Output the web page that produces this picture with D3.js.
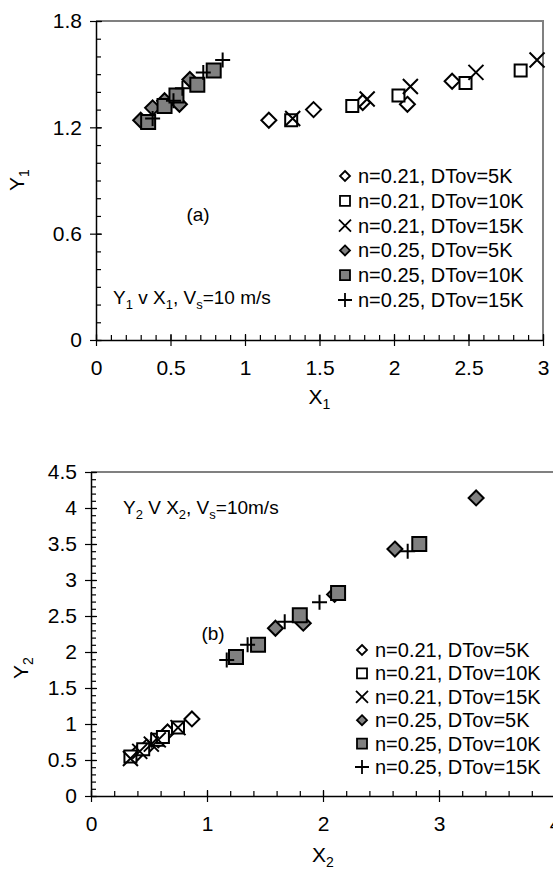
<!DOCTYPE html>
<html>
<head>
<meta charset="utf-8">
<script src="https://cdn.jsdelivr.net/npm/d3@7"></script>
<style>
  body { margin: 0; background: #fff; }
  svg { display: block; font-family: "Liberation Sans", Arial, sans-serif; }
</style>
</head>
<body>
<svg id="chart" width="553" height="874"></svg>
<script>
  'use strict';

  // legend labels, same for both panels
  var legendLabels = [
    'n=0.21, DTov=5K', 'n=0.21, DTov=10K', 'n=0.21, DTov=15K',
    'n=0.25, DTov=5K', 'n=0.25, DTov=10K', 'n=0.25, DTov=15K'
  ];

  // panel (a): [X1, Y1]
  var a_n21_5K  = [[1.16, 1.24], [1.46, 1.30], [1.79, 1.34], [2.09, 1.33], [2.39, 1.46]];
  var a_n21_10K = [[1.31, 1.24], [1.72, 1.32], [2.03, 1.38], [2.48, 1.45], [2.85, 1.52]];
  var a_n21_15K = [[1.32, 1.25], [1.82, 1.36], [2.11, 1.43], [2.55, 1.51], [2.96, 1.58]];
  var a_n25_5K  = [[0.30, 1.24], [0.38, 1.31], [0.46, 1.35], [0.56, 1.33], [0.63, 1.47]];
  var a_n25_10K = [[0.35, 1.23], [0.46, 1.32], [0.54, 1.38], [0.68, 1.44], [0.79, 1.52]];
  var a_n25_15K = [[0.38, 1.25], [0.52, 1.35], [0.58, 1.42], [0.72, 1.51], [0.85, 1.58]];

  // panel (b): [X2, Y2]
  var b_n21_5K  = [[0.40, 0.60], [0.48, 0.68], [0.58, 0.78], [0.66, 0.89], [0.87, 1.07]];
  var b_n21_10K = [[0.34, 0.55], [0.45, 0.65], [0.57, 0.78], [0.62, 0.82], [0.75, 0.95]];
  var b_n21_15K = [[0.34, 0.52], [0.42, 0.62], [0.52, 0.72], [0.58, 0.78], [0.75, 0.95]];
  var b_n25_5K  = [[1.59, 2.33], [1.83, 2.40], [2.10, 2.80], [2.62, 3.43], [3.32, 4.14]];
  var b_n25_10K = [[1.25, 1.93], [1.44, 2.10], [1.80, 2.51], [2.13, 2.82], [2.83, 3.50]];
  var b_n25_15K = [[1.17, 1.89], [1.35, 2.10], [1.67, 2.42], [1.97, 2.69], [2.73, 3.40]];

  var aXTicks = [0, 0.5, 1, 1.5, 2, 2.5, 3];
  var aYTicks = [0, 0.6, 1.2, 1.8];
  var bXTicks = [0, 1, 2, 3, 4];
  var bYTicks = [0, 0.5, 1, 1.5, 2, 2.5, 3, 3.5, 4, 4.5];

  var GRAY = '#808080';

  // marker styles, one per series (legend order)
  var markers = [
    { shape: 'diamond', fill: '#fff', r: 7.5, lr: 5 },
    { shape: 'square', fill: '#fff', r: 6, lr: 5 },
    { shape: 'x', fill: 'none', r: 7.5, lr: 6 },
    { shape: 'diamond', fill: GRAY, r: 7.5, lr: 5 },
    { shape: 'square', fill: GRAY, r: 7, lr: 5 },
    { shape: 'plus', fill: 'none', r: 7.5, lr: 7 }
  ];

  function markerPath(shape, s) {
    switch (shape) {
      case 'diamond': return 'M0,' + (-s) + 'L' + s + ',0L0,' + s + 'L' + (-s) + ',0Z';
      case 'square': return 'M' + (-s) + ',' + (-s) + 'h' + 2 * s + 'v' + 2 * s + 'h' + (-2 * s) + 'Z';
      case 'x': return 'M' + (-s) + ',' + (-s) + 'L' + s + ',' + s + 'M' + (-s) + ',' + s + 'L' + s + ',' + (-s);
      default: return 'M' + (-s) + ',0H' + s + 'M0,' + (-s) + 'V' + s;
    }
  }

  function minorTicks(lo, hi, step) {
    return d3.range(Math.round((hi - lo) / step) + 1).map(function (i) {
      return +(lo + i * step).toFixed(4);
    });
  }

  // text with subscripts: parts = [[text, isSub], ...]
  function richText(sel, parts, subSize) {
    parts.forEach(function (p) {
      var t = sel.append('tspan').text(p[0]);
      if (p[1]) {
        t.attr('font-size', subSize).attr('dy', 5);
      } else {
        t.attr('dy', sel.node().childNodes.length > 1 ? -5 : 0);
      }
    });
  }

  var svg = d3.select('#chart');

  function drawPanel(cfg) {
    var g = svg.append('g');
    var x = d3.scaleLinear().domain(cfg.xDomain).range([cfg.left, cfg.right]);
    var y = d3.scaleLinear().domain(cfg.yDomain).range([cfg.bottom, cfg.top]);

    // plot-area frame (top/right gray)
    g.append('path')
      .attr('d', 'M' + cfg.left + ',' + cfg.top + 'H' + cfg.right + 'V' + cfg.bottom)
      .attr('fill', 'none')
      .attr('stroke', GRAY)
      .attr('stroke-width', 2);

    // minor ticks (inside)
    g.append('g')
      .attr('transform', 'translate(' + cfg.left + ',0)')
      .call(d3.axisRight(y).tickValues(cfg.yMinor).tickSize(5).tickFormat(''))
      .call(function (s) { s.select('.domain').remove(); });
    g.append('g')
      .attr('transform', 'translate(0,' + cfg.bottom + ')')
      .call(d3.axisTop(x).tickValues(cfg.xMinor).tickSize(5).tickFormat(''))
      .call(function (s) { s.select('.domain').remove(); });

    // major axes
    var yAxis = g.append('g')
      .attr('transform', 'translate(' + cfg.left + ',0)')
      .call(d3.axisLeft(y).tickValues(cfg.yTicks).tickSize(6).tickSizeOuter(0).tickPadding(8)
        .tickFormat(d3.format('')));
    yAxis.selectAll('.tick line').attr('x2', 6).attr('x1', -6);
    var xAxis = g.append('g')
      .attr('transform', 'translate(0,' + cfg.bottom + ')')
      .call(d3.axisBottom(x).tickValues(cfg.xTicks).tickSize(6).tickSizeOuter(0).tickPadding(14)
        .tickFormat(d3.format('')));
    xAxis.selectAll('.tick line').attr('y1', -6).attr('y2', 6);

    svg.selectAll('.domain').attr('stroke', '#000').attr('stroke-width', 1.5);
    g.selectAll('.tick line').attr('stroke', '#000').attr('stroke-width', 1.2);
    g.selectAll('.tick text').attr('font-size', 21).attr('fill', '#000')
      .attr('font-family', '"Liberation Sans", Arial, sans-serif');

    // axis titles
    var yt = g.append('text')
      .attr('transform', 'translate(' + cfg.yTitleX + ',' + cfg.yTitleY + ') rotate(-90)')
      .attr('text-anchor', 'middle')
      .attr('font-size', 21);
    richText(yt, [['Y', false], [cfg.sub, true]], 14);
    var xt = g.append('text')
      .attr('x', (cfg.left + x(cfg.xTicks[cfg.xTicks.length - 1])) / 2)
      .attr('y', cfg.xTitleY)
      .attr('text-anchor', 'middle')
      .attr('font-size', 21);
    richText(xt, [['X', false], [cfg.sub, true]], 14);

    // points
    cfg.series.forEach(function (data, i) {
      var m = markers[i];
      g.append('g').selectAll('path')
        .data(data)
        .join('path')
        .attr('transform', function (d) { return 'translate(' + x(d[0]) + ',' + y(d[1]) + ')'; })
        .attr('d', markerPath(m.shape, m.r))
        .attr('fill', m.fill)
        .attr('stroke', '#000')
        .attr('stroke-width', 2);
    });

    // legend
    var lg = g.append('g');
    legendLabels.forEach(function (lab, i) {
      var m = markers[i];
      var ly = cfg.legendY + i * cfg.legendStep;
      lg.append('path')
        .attr('transform', 'translate(' + cfg.legendX + ',' + ly + ')')
        .attr('d', markerPath(m.shape, m.lr))
        .attr('fill', m.fill)
        .attr('stroke', '#000')
        .attr('stroke-width', 1.8);
      lg.append('text')
        .attr('x', cfg.legendX + 13)
        .attr('y', ly + 7)
        .attr('font-size', 20)
        .text(lab);
    });

    // panel tag and annotation
    g.append('text')
      .attr('x', cfg.tagX).attr('y', cfg.tagY)
      .attr('text-anchor', 'middle')
      .attr('font-size', 19)
      .text(cfg.tag);
    var ann = g.append('text')
      .attr('x', cfg.annX).attr('y', cfg.annY)
      .attr('font-size', 19);
    richText(ann, cfg.ann, 13);
  }

  drawPanel({
    left: 96, right: 543, top: 21, bottom: 340,
    xDomain: [0, 3], yDomain: [0, 1.8],
    xTicks: aXTicks, yTicks: aYTicks,
    xMinor: minorTicks(0, 3, 0.1), yMinor: minorTicks(0, 1.8, 0.1),
    sub: '1', yTitleX: 24, yTitleY: 180, xTitleY: 404,
    series: [a_n21_5K, a_n21_10K, a_n21_15K, a_n25_5K, a_n25_10K, a_n25_15K],
    legendX: 345, legendY: 176, legendStep: 24.8,
    tag: '(a)', tagX: 198, tagY: 221,
    ann: [['Y', false], ['1', true], [' v X', false], ['1', true], [', V', false], ['s', true], ['=10 m/s', false]],
    annX: 113, annY: 304
  });

  drawPanel({
    left: 91, right: 555, top: 472, bottom: 796,
    xDomain: [0, 4], yDomain: [0, 4.5],
    xTicks: bXTicks, yTicks: bYTicks,
    xMinor: minorTicks(0, 4, 0.2), yMinor: minorTicks(0, 4.5, 0.1),
    sub: '2', yTitleX: 28, yTitleY: 668, xTitleY: 862,
    series: [b_n21_5K, b_n21_10K, b_n21_15K, b_n25_5K, b_n25_10K, b_n25_15K],
    legendX: 362, legendY: 650, legendStep: 23.4,
    tag: '(b)', tagX: 213, tagY: 640,
    ann: [['Y', false], ['2', true], [' V X', false], ['2', true], [', V', false], ['s', true], ['=10m/s', false]],
    annX: 123, annY: 514
  });
</script>
</body>
</html>
